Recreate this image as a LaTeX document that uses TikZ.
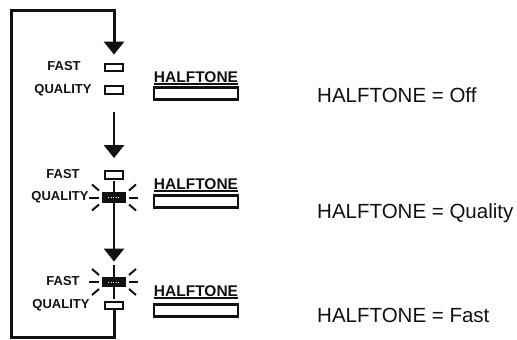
\documentclass[tikz,border=0pt]{standalone}
\usepackage{fontspec}
\setsansfont{Liberation Sans}
\usetikzlibrary{arrows.meta, positioning, calc}
\definecolor{ink}{HTML}{111111}
\tikzset{
  font=\sffamily,
  led/.style={rectangle, draw=ink, line width=2.3pt, fill=white, inner sep=0pt,
              minimum width=18pt, minimum height=7.5pt},
  ledon/.style={led, fill=ink, minimum width=21pt, minimum height=8.5pt,
                path picture={\draw[white, line width=0.9pt, dash pattern=on 1pt off 1.6pt]
                  ([xshift=-6pt]path picture bounding box.center) --
                  ([xshift=6pt]path picture bounding box.center);}},
  ledlabel/.style={font=\sffamily\bfseries\fontsize{13}{15}\selectfont, text=ink,
                   inner sep=0pt, anchor=mid},
  tonebox/.style={rectangle, draw=ink, line width=2.4pt, inner sep=0pt,
                  minimum width=84pt, minimum height=12pt},
  tonelabel/.style={font=\sffamily\bfseries\fontsize{15.5}{17}\selectfont, text=ink,
                    inner xsep=0pt, anchor=base,
                    append after command={([yshift=-1.8pt]\tikzlastnode.base west)
                      edge[draw=ink, line width=1.6pt] ([yshift=-1.8pt]\tikzlastnode.base east)}},
  status/.style={font=\sffamily\fontsize{20.5}{24}\selectfont, text=ink,
                 inner sep=0pt, anchor=base west},
  flow/.style={-{Triangle[width=20pt, length=13pt]}, draw=ink, line width=2.6pt},
  loopline/.style={flow, line width=3pt},
  ray/.style={draw=ink, line width=2pt},
}

% #1 = lit lamp node
\newcommand{\glowrays}[1]{%
  \foreach \dx/\dy/\ex/\ey in {15/0/24/0, -15/0/-25/0, 0/-5/0/-17, 0/5/0/17,
                               15/-7/22/-13, -15/-7/-22/-13, 15/7/22/13, -15/7/-22/13}
    \draw[ray] ([shift={(\dx,\dy)}]#1.center) -- ([shift={(\ex,\ey)}]#1.center);
}

\begin{document}
\begin{tikzpicture}[x=1pt, y=-1pt]
\useasboundingbox (0,0) rectangle (517,340);

% --- HALFTONE = Off ---
\node[led]      (fast1) at (114, 67.5) {};
\node[led]      (qual1) at (114, 90) {};
\node[ledlabel] (flab1) at (64, 68.5) {FAST};
\node[ledlabel] (qlab1) at (63, 91) {QUALITY};
\node[tonebox]  (hbox1) at (196, 93.5) {};
\node[tonelabel] (hlab1) at (196, 82) {HALFTONE};
\node[status]   (stat1) at (317, 102) {HALFTONE = Off};

% --- HALFTONE = Quality ---
\node[led]      (fast2) at (114, 175) {};
\node[ledon]    (qual2) at (114, 197.5) {};
\node[ledlabel] (flab2) at (63, 176) {FAST};
\node[ledlabel] (qlab2) at (60, 198.5) {QUALITY};
\node[tonebox]  (hbox2) at (196, 201.5) {};
\node[tonelabel] (hlab2) at (196, 189) {HALFTONE};
\node[status]   (stat2) at (317, 218) {HALFTONE = Quality};
\glowrays{qual2}

% --- HALFTONE = Fast ---
\node[ledon]    (fast3) at (114, 282) {};
\node[led]      (qual3) at (114, 305.5) {};
\node[ledlabel] (flab3) at (63, 283) {FAST};
\node[ledlabel] (qlab3) at (61, 306.5) {QUALITY};
\node[tonebox]  (hbox3) at (196, 310.5) {};
\node[tonelabel] (hlab3) at (196, 296) {HALFTONE};
\node[status]   (stat3) at (317, 322) {HALFTONE = Fast};
\glowrays{fast3}

% --- arrows ---
\draw[flow, shorten <=17pt, shorten >=12pt] (qual1) -- (fast2);
\draw[flow, shorten >=15pt] (qual2) -- (fast3);

\coordinate (lowleft) at (11, 337);
\coordinate (upleft)  at (11, 10);
\draw[loopline, shorten >=8pt] (qual3) -- (qual3 |- lowleft) -- (lowleft) -- (upleft) -| (fast1);

\end{tikzpicture}
\end{document}
